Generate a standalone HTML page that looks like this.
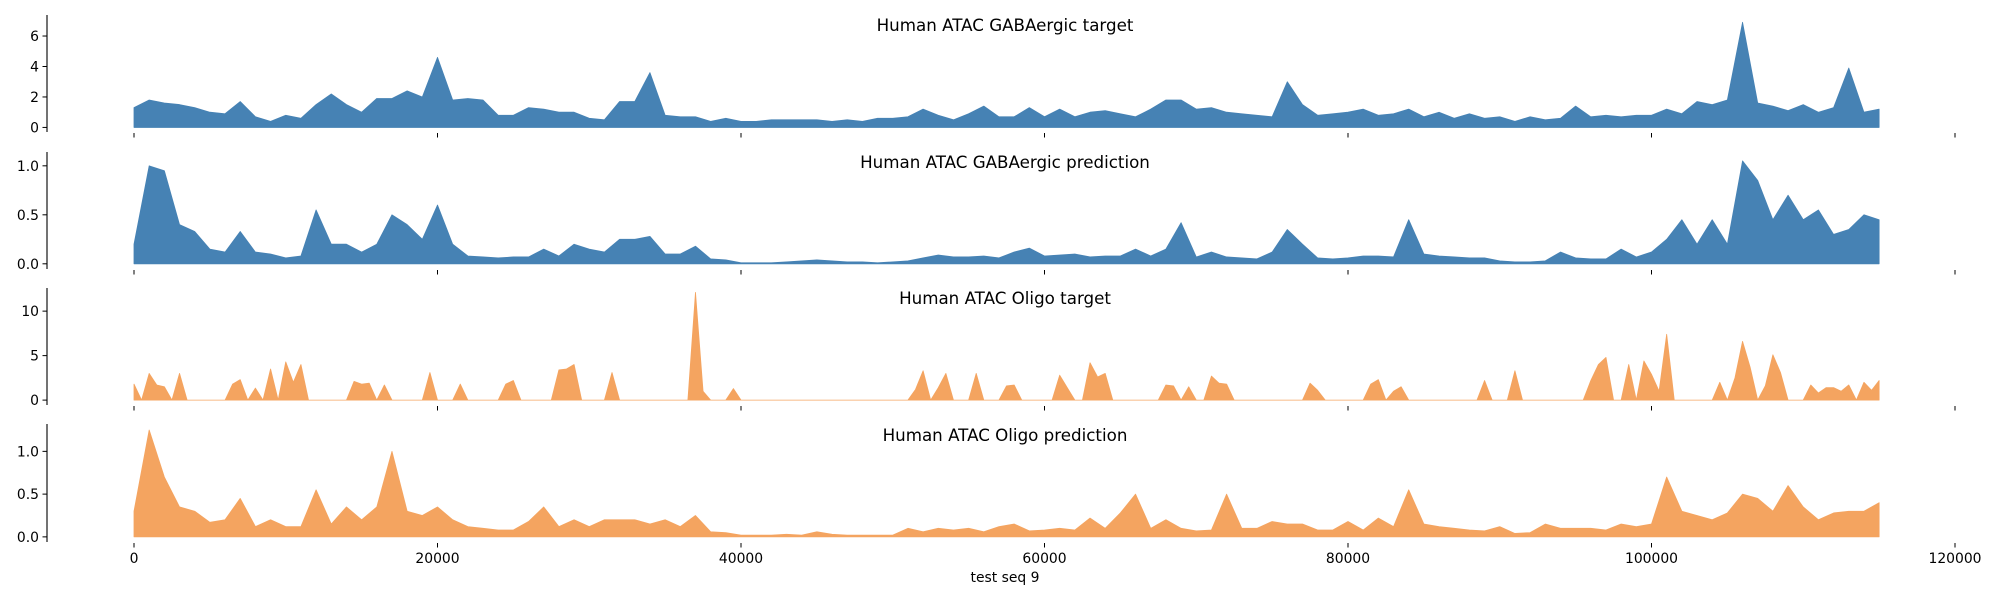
<!DOCTYPE html>
<html>
<head>
<meta charset="utf-8">
<style>
  html, body { margin: 0; padding: 0; background: #fff; }
  svg { display: block; font-family: "DejaVu Sans", "Liberation Sans", sans-serif; }
</style>
</head>
<body>
<svg id="chart" width="2000" height="600" viewBox="0 0 2000 600" xmlns="http://www.w3.org/2000/svg"></svg>
<script>
// ---- data ----
const xTicks = [0, 20000, 40000, 60000, 80000, 100000, 120000];
const gabaTargetStep = 1000;
const gabaTarget = [1.3,1.8,1.6,1.5,1.3,1.0,0.9,1.7,0.7,0.4,0.8,0.6,1.5,2.2,1.5,1.0,1.9,1.9,2.4,2.0,4.6,1.8,1.9,1.8,0.8,0.8,1.3,1.2,1.0,1.0,
0.6,0.5,1.7,1.7,3.6,0.8,0.7,0.7,0.4,0.6,0.4,0.4,0.5,0.5,0.5,0.5,0.4,0.5,0.4,0.6,0.6,0.7,1.2,0.8,0.5,0.9,1.4,0.7,0.7,1.3,
0.7,1.2,0.7,1.0,1.1,0.9,0.7,1.2,1.8,1.8,1.2,1.3,1.0,0.9,0.8,0.7,3.0,1.5,0.8,0.9,1.0,1.2,0.8,0.9,1.2,0.7,1.0,0.6,0.9,0.6,
0.7,0.4,0.7,0.5,0.6,1.4,0.7,0.8,0.7,0.8,0.8,1.2,0.9,1.7,1.5,1.8,6.9,1.6,1.4,1.1,1.5,1.0,1.3,3.9,1.0,1.2];
const gabaPredStep = 1000;
const gabaPred = [0.2,1.0,0.95,0.40,0.33,0.15,0.12,0.33,0.12,0.10,0.06,0.08,0.55,0.2,0.2,0.12,0.2,0.5,0.4,0.25,0.6,0.2,0.08,0.07,0.06,0.07,0.07,0.15,0.08,0.2,
0.15,0.12,0.25,0.25,0.28,0.10,0.10,0.18,0.05,0.04,0.01,0.01,0.01,0.02,0.03,0.04,0.03,0.02,0.02,0.01,0.02,0.03,0.06,0.09,0.07,0.07,0.08,0.06,0.12,0.16,
0.08,0.09,0.10,0.07,0.08,0.08,0.15,0.08,0.15,0.42,0.07,0.12,0.07,0.06,0.05,0.12,0.35,0.2,0.06,0.05,0.06,0.08,0.08,0.07,0.45,0.1,0.08,0.07,0.06,0.06,
0.03,0.02,0.02,0.03,0.12,0.06,0.05,0.05,0.15,0.07,0.12,0.25,0.45,0.2,0.45,0.2,1.05,0.85,0.45,0.7,0.45,0.55,0.3,0.35,0.5,0.45];
const oligoTargetStep = 500;
const oligoTarget = [1.8,0,3.0,1.7,1.5,0,3.0,0,0,0, 0,0,0,1.8,2.3,0,1.35,0,3.5,0, 4.3,2.0,4.0,0,0,0,0,0,0,2.1, 1.8,1.9,0,1.7,0,0,0,0,0,3.1,
0,0,0,1.8,0,0,0,0,0,1.8, 2.2,0,0,0,0,0,3.4,3.5,4.0,0, 0,0,0,3.1,0,0,0,0,0,0, 0,0,0,0,12.1,1.0,0,0,0,1.3,
0,0,0,0,0,0,0,0,0,0, 0,0,0,0,0,0,0,0,0,0, 0,0,0,1.2,3.3,0,1.4,3.0,0,0, 0,3.0,0,0,0,1.6,1.7,0,0,0,
0,0,2.8,1.4,0,0,4.2,2.6,3.0,0, 0,0,0,0,0,0,1.7,1.6,0,1.5, 0,0,2.7,1.9,1.8,0,0,0,0,0, 0,0,0,0,0,1.9,1.1,0,0,0,
0,0,0,1.8,2.3,0,1.0,1.5,0,0, 0,0,0,0,0,0,0,0,2.2,0, 0,0,3.3,0,0,0,0,0,0,0, 0,0,2.2,4.0,4.8,0,0,4.0,0,4.4,
2.9,1.0,7.4,0,0,0,0,0,0,2.0, 0,2.5,6.6,3.7,0,1.6,5.1,3.1,0,0, 0,1.7,0.8,1.4,1.4,1.0,1.7,0,2.0,1.1, 2.2];
const oligoPredStep = 1000;
const oligoPred = [0.30,1.25,0.7,0.35,0.3,0.17,0.2,0.45,0.12,0.2,0.12,0.12,0.55,0.15,0.35,0.2,0.35,1.0,0.3,0.25,0.35,0.2,0.12,0.10,0.08,0.08,0.18,0.35,0.12,0.2,
0.12,0.2,0.2,0.2,0.15,0.2,0.12,0.25,0.06,0.05,0.02,0.02,0.02,0.03,0.02,0.06,0.03,0.02,0.02,0.02,0.02,0.1,0.06,0.1,0.08,0.1,0.06,0.12,0.15,0.07,
0.08,0.1,0.08,0.22,0.1,0.28,0.5,0.1,0.2,0.1,0.07,0.08,0.5,0.1,0.1,0.18,0.15,0.15,0.08,0.08,0.18,0.08,0.22,0.12,0.55,0.15,0.12,0.1,0.08,0.07,
0.12,0.04,0.05,0.15,0.1,0.1,0.1,0.08,0.15,0.12,0.15,0.7,0.3,0.25,0.2,0.28,0.5,0.45,0.3,0.6,0.35,0.2,0.28,0.3,0.3,0.4];

// ---- layout ----
const NS = "http://www.w3.org/2000/svg";
const svg = document.getElementById("chart");
const X0 = 134, PX_PER_BP = 303.5 / 20000, SPINE_X = 47;
function xScale(bp) { return X0 + bp * PX_PER_BP; }

const panels = [
  { key: "gaba-target", title: "Human ATAC GABAergic target", data: gabaTarget, step: gabaTargetStep,
    top: 15, bottom: 132, ymin: -0.3, ymax: 7.38, yticks: [0,2,4,6], fmt: v => String(v), color: "#4682b4", titleY: 31 },
  { key: "gaba-prediction", title: "Human ATAC GABAergic prediction", data: gabaPred, step: gabaPredStep,
    top: 152, bottom: 269, ymin: -0.053, ymax: 1.141, yticks: [0,0.5,1.0], fmt: v => v.toFixed(1), color: "#4682b4", titleY: 168 },
  { key: "oligo-target", title: "Human ATAC Oligo target", data: oligoTarget, step: oligoTargetStep,
    top: 288, bottom: 405, ymin: -0.55, ymax: 12.6, yticks: [0,5,10], fmt: v => String(v), color: "#f4a460", titleY: 304 },
  { key: "oligo-prediction", title: "Human ATAC Oligo prediction", data: oligoPred, step: oligoPredStep,
    top: 424, bottom: 542, ymin: -0.06, ymax: 1.32, yticks: [0,0.5,1.0], fmt: v => v.toFixed(1), color: "#f4a460", titleY: 441 }
];

function mk(tag, attrs, parent) {
  const el = document.createElementNS(NS, tag);
  for (const k in attrs) el.setAttribute(k, attrs[k]);
  (parent || svg).appendChild(el);
  return el;
}

panels.forEach((p, pi) => {
  const g = mk("g", {});
  
  
  const yScale = v => p.bottom - (v - p.ymin) / (p.ymax - p.ymin) * (p.bottom - p.top);
  const y0 = yScale(0);

  let d = "M" + xScale(0).toFixed(2) + "," + y0.toFixed(2);
  p.data.forEach((v, i) => { d += " L" + xScale(i * p.step).toFixed(2) + "," + yScale(v).toFixed(2); });
  d += " L" + xScale((p.data.length - 1) * p.step).toFixed(2) + "," + y0.toFixed(2) + " Z";
  const area = mk("path", { d: d, fill: p.color, stroke: p.color, "stroke-width": "0.8", "stroke-linejoin": "round" }, g);
  
  

  const spine = mk("line", { x1: SPINE_X, x2: SPINE_X, y1: p.top, y2: p.bottom, stroke: "#000", "stroke-width": "1.1" }, g);
  
  

  p.yticks.forEach(t => {
    const yy = yScale(t);
    const tk = mk("line", { x1: SPINE_X - 4.5, x2: SPINE_X, y1: yy, y2: yy, stroke: "#000", "stroke-width": "1" }, g);
    
    
    const lb = mk("text", { x: SPINE_X - 8, y: yy + 5, "text-anchor": "end", "font-size": "13.9", fill: "#000" }, g);
    lb.textContent = p.fmt(t);
    
    
  });

  xTicks.forEach(t => {
    const xx = xScale(t);
    const tk = mk("line", { x1: xx, x2: xx, y1: p.bottom + 1, y2: p.bottom + 5.5, stroke: "#000", "stroke-width": "1" }, g);
    
    
    if (pi === panels.length - 1) {
      const lb = mk("text", { x: xx, y: p.bottom + 21, "text-anchor": "middle", "font-size": "13.9", fill: "#000" }, g);
      lb.textContent = String(t);
      
      
    }
  });

  const tt = mk("text", { x: 1005, y: p.titleY, "text-anchor": "middle", "font-size": "16.7", fill: "#000" }, g);
  tt.textContent = p.title;
  
  
});

const xl = mk("text", { x: 1005, y: 582, "text-anchor": "middle", "font-size": "13.9", fill: "#000" });
xl.textContent = "test seq 9";


</script>
</body>
</html>
